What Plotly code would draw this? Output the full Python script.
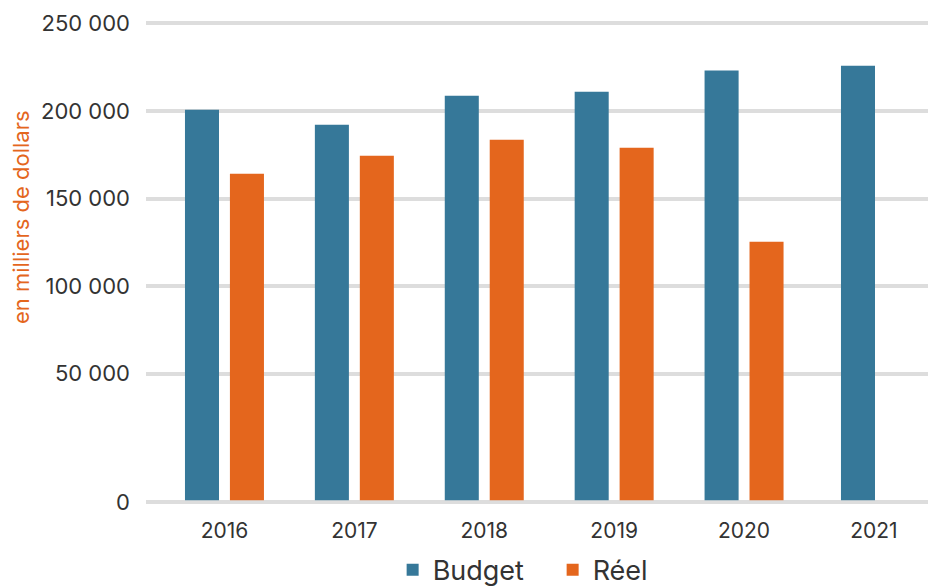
import plotly.graph_objects as go

# ---- data ----
years = ["2016", "2017", "2018", "2019", "2020", "2021"]
budget = [200700, 192100, 208700, 211000, 223000, 225800]
reel = [164100, 174400, 183500, 179000, 125300, None]
tick_values = [50000, 100000, 150000, 200000, 250000]
tick_labels = ["50 000", "100 000", "150 000", "200 000", "250 000"]

BLUE = "#367899"
ORANGE = "#E4661D"
GRID = "#DDDDDD"
TEXT = "#333333"
FONT = "Inter, sans-serif"

# ---- axis geometry (the reference places "0" lower than a linear scale would) ----
W, H = 928, 586
plot_left_px = 146
plot_top_px, plot_bot_px = 10, 505
px_250k = 23.3
val_per_px = 50000 / 87.6
zero_tick_px = 502.3
bar_base_px = 500.3

def px_to_val(p):
    return 250000 - (p - px_250k) * val_per_px

y_range = [px_to_val(plot_bot_px), px_to_val(plot_top_px)]
zero_tick_val = px_to_val(zero_tick_px)
bar_base_val = px_to_val(bar_base_px)

# bar layout in category units
BAR_W = 0.262
SLOT = 0.346
budget_offset = [-SLOT / 2 - BAR_W / 2] * 5 + [-0.254]   # last (lone) bar sits a bit right
reel_offset = SLOT / 2 - BAR_W / 2

fig = go.Figure()
fig.add_trace(go.Bar(
    x=years, y=[v - bar_base_val for v in budget], base=bar_base_val,
    name="Budget", marker=dict(color=BLUE, line=dict(width=0)),
    width=BAR_W, offset=budget_offset,
    customdata=budget, hovertemplate="%{x}: %{customdata}<extra>Budget</extra>",
))
fig.add_trace(go.Bar(
    x=years, y=[None if v is None else v - bar_base_val for v in reel], base=bar_base_val,
    name="Réel", marker=dict(color=ORANGE, line=dict(width=0)),
    width=BAR_W, offset=reel_offset,
    customdata=reel, hovertemplate="%{x}: %{customdata}<extra>Réel</extra>",
))

plot_h = plot_bot_px - plot_top_px
plot_w = W - plot_left_px
fig.add_annotation(
    text="en milliers de dollars", textangle=-90, showarrow=False,
    xref="paper", yref="paper",
    x=(21 - plot_left_px) / plot_w, y=(plot_bot_px - 217) / plot_h,
    xanchor="center", yanchor="middle",
    font=dict(size=22, color=ORANGE, family=FONT),
)

fig.update_layout(
    width=W, height=H,
    margin=dict(l=plot_left_px, r=0, t=plot_top_px, b=H - plot_bot_px, autoexpand=False),
    paper_bgcolor="white", plot_bgcolor="white",
    barmode="group",
    font=dict(family=FONT, color=TEXT, size=20),
    showlegend=True,
    legend=dict(
        orientation="h", x=0.52, xanchor="center", y=-0.082, yanchor="top",
        font=dict(size=27, color=TEXT, family=FONT), entrywidth=115, entrywidthmode="pixels",
        itemclick=False, bgcolor="rgba(0,0,0,0)",
    ),
)
fig.update_xaxes(
    type="category", range=[-0.604, 5.416], showgrid=False, zeroline=False,
    showline=False, ticks="", ticklabelstandoff=11,
    tickfont=dict(size=21, color=TEXT, family=FONT),
)
fig.update_yaxes(
    range=y_range, showgrid=True, gridcolor=GRID, gridwidth=4,
    zeroline=False, showline=False, ticks="",
    tickvals=[zero_tick_val] + tick_values, ticktext=["0"] + tick_labels,
    tickfont=dict(size=22, color=TEXT, family=FONT), ticklabelstandoff=15,
)

fig.write_html("out.html")
